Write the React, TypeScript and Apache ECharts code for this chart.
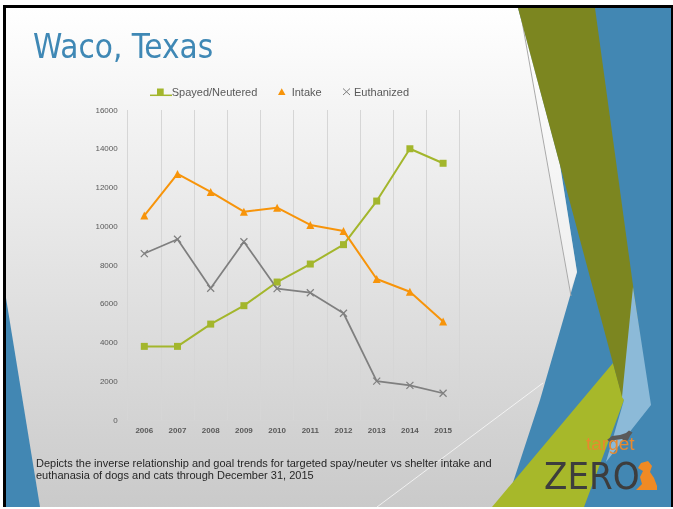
import React, { useEffect, useRef } from "react";
import * as echarts from "echarts";

const years = ["2006", "2007", "2008", "2009", "2010", "2011", "2012", "2013", "2014", "2015"];
const spayed = [3800, 3800, 4950, 5900, 7120, 8050, 9050, 11300, 14000, 13250];
const intake = [10550, 12700, 11770, 10750, 10960, 10070, 9760, 7280, 6620, 5080];
const euthanized = [8590, 9330, 6800, 9200, 6780, 6570, 5510, 2010, 1790, 1380];
const seriesNames = ["Spayed/Neutered", "Intake", "Euthanized"];
const titleText = "Waco, Texas";
const captionLines = [
  "Depicts the inverse relationship and goal trends for targeted spay/neuter vs shelter intake and",
  "euthanasia of dogs and cats through December 31, 2015",
];

const LIME = "#A3B62C";
const ORANGE = "#F7940A";
const GRAY = "#7F7F7F";
const FONT = '"Liberation Sans", Arial, sans-serif';
const NARROW = '"Liberation Sans Narrow", "DejaVu Sans Condensed", "Liberation Sans", sans-serif';

export default function App() {
  const ref = useRef<HTMLDivElement>(null);
  useEffect(() => {
    if (!ref.current) return;
    const chart = echarts.init(ref.current, undefined, { renderer: "svg" });
    const pts = (a: number[][]) => a;
    const graphic: any[] = [
      { type: "rect", z: 0, shape: { x: 3, y: 5, width: 670, height: 502 }, style: { fill: "#000" } },
      {
        type: "rect", z: 0, shape: { x: 6, y: 8, width: 665, height: 499 },
        style: {
          fill: new echarts.graphic.LinearGradient(0, 0, 0, 1, [
            { offset: 0, color: "#ffffff" },
            { offset: 1, color: "#cacaca" },
          ]),
        },
      },
      // left blue triangle
      { type: "polygon", z: 0, shape: { points: pts([[6, 298], [40, 507], [6, 507]]) }, style: { fill: "#4287B3" } },
      // faint diagonal line
      { type: "line", z: 0, shape: { x1: 377, y1: 507, x2: 543, y2: 383 }, style: { stroke: "rgba(255,255,255,0.7)", lineWidth: 1 } },
      // right blue area
      {
        type: "polygon", z: 0,
        shape: { points: pts([[518, 8], [671, 8], [671, 507], [505, 507], [540, 400], [577, 272], [560, 165]]) },
        style: { fill: "#4287B3" },
      },
      // lighter strip
      {
        type: "polygon", z: 0,
        shape: { points: pts([[519, 8], [560, 165], [577, 272], [570, 292]]) },
        style: { fill: "rgba(255,255,255,0.45)" },
      },
      { type: "line", z: 0, shape: { x1: 520, y1: 10, x2: 571, y2: 296 }, style: { stroke: "#a9a9a9", lineWidth: 1 } },
      // lime triangle
      {
        type: "polygon", z: 0,
        shape: { points: pts([[492, 507], [613, 363], [622, 395], [624, 400], [584, 507]]) },
        style: { fill: "#A7B82A" },
      },
      // olive
      {
        type: "polygon", z: 0,
        shape: { points: pts([[518, 8], [595, 8], [648, 395], [622, 397]]) },
        style: { fill: "#7C8620" },
      },
      // light blue
      {
        type: "polygon", z: 0,
        shape: { points: pts([[633, 287], [651, 405], [606, 462], [624, 400], [622, 397]]) },
        style: { fill: "#8CBAD8" },
      },
      // title
      {
        type: "text", z: 5, x: 33, y: 46.5,
        style: { text: titleText, fill: "#3F88B5", font: `33px ${NARROW}`, verticalAlign: "middle", textAlign: "left" },
      },
      // legend
      { type: "line", z: 5, shape: { x1: 150, y1: 95.3, x2: 172, y2: 95.3 }, style: { stroke: LIME, lineWidth: 1.5 } },
      { type: "rect", z: 5, shape: { x: 157, y: 88.5, width: 6.7, height: 6.5 }, style: { fill: LIME } },
      { type: "text", z: 5, x: 171.7, y: 91.6, style: { text: seriesNames[0], fill: "#595959", font: `11px ${FONT}`, verticalAlign: "middle" } },
      { type: "polygon", z: 5, shape: { points: pts([[278, 95], [285.5, 95], [281.7, 88.3]]) }, style: { fill: ORANGE } },
      { type: "text", z: 5, x: 291.7, y: 91.6, style: { text: seriesNames[1], fill: "#595959", font: `11px ${FONT}`, verticalAlign: "middle" } },
      { type: "line", z: 5, shape: { x1: 343, y1: 88.5, x2: 350, y2: 95 }, style: { stroke: GRAY, lineWidth: 1 } },
      { type: "line", z: 5, shape: { x1: 343, y1: 95, x2: 350, y2: 88.5 }, style: { stroke: GRAY, lineWidth: 1 } },
      { type: "text", z: 5, x: 354, y: 91.6, style: { text: seriesNames[2], fill: "#595959", font: `11px ${FONT}`, verticalAlign: "middle" } },
      // caption
      { type: "text", z: 5, x: 36, y: 463, style: { text: captionLines[0], fill: "#262626", font: `11px ${FONT}`, verticalAlign: "middle", lineHeight: 11 } },
      { type: "text", z: 5, x: 36, y: 474.5, style: { text: captionLines[1], fill: "#262626", font: `11px ${FONT}`, verticalAlign: "middle", lineHeight: 11 } },
      // logo
      {
        type: "polygon", z: 5,
        shape: { points: pts([[607, 440], [612, 436], [620, 435], [626, 433], [629, 430.5], [632.5, 432.5], [630, 436], [628, 440], [625, 442], [622, 439], [615, 440], [611, 442.5]]) },
        style: { fill: "#5a5a5a" },
      },
      { type: "text", z: 5, x: 586, y: 443.5, style: { text: "target", fill: "#E8892E", font: `19px ${FONT}`, verticalAlign: "middle", lineHeight: 14 } },
      { type: "text", z: 5, x: 544, y: 476, style: { text: "ZERO", fill: "#3d3d3d", font: `38px ${NARROW}`, verticalAlign: "middle", lineHeight: 28 } },
      {
        type: "polygon", z: 6,
        shape: { points: pts([[641, 463], [648, 461], [652, 466], [650, 472], [654, 478], [657, 486], [657, 490], [636, 490], [642, 484], [640, 477], [643, 471], [638, 468]]) },
        style: { fill: "#F08A24" },
      },
    ];

    chart.setOption({
      animation: false,
      graphic,
      grid: { left: 127.7, right: 213.3, top: 110, bottom: 89, containLabel: false },
      xAxis: {
        type: "category",
        data: years,
        boundaryGap: true,
        axisLine: { lineStyle: { color: "#d4d4d4", width: 1 } },
        axisTick: { show: false },
        splitLine: { show: true, lineStyle: { color: "#d6d6d6", width: 1 } },
        axisLabel: { color: "#595959", fontSize: 8, fontFamily: FONT, fontWeight: "bold", margin: 6 },
      },
      yAxis: {
        type: "value",
        min: 0,
        max: 16000,
        interval: 2000,
        axisLine: { show: false },
        axisTick: { show: false },
        splitLine: { show: false },
        axisLabel: { color: "#595959", fontSize: 8, fontFamily: FONT, margin: 10, formatter: (v: number) => String(v) },
      },
      series: [
        {
          name: seriesNames[0], type: "line", data: spayed, symbol: "rect", symbolSize: 7,
          lineStyle: { color: LIME, width: 2 }, itemStyle: { color: LIME },
        },
        {
          name: seriesNames[1], type: "line", data: intake, symbol: "triangle", symbolSize: 8,
          lineStyle: { color: ORANGE, width: 2 }, itemStyle: { color: ORANGE },
        },
        {
          name: seriesNames[2], type: "line", data: euthanized, symbol: "path://M0,0L10,10M0,10L10,0", symbolSize: 7,
          lineStyle: { color: GRAY, width: 1.75 }, itemStyle: { color: GRAY, borderColor: GRAY, borderWidth: 1.2 },
        },
      ],
    });
    return () => chart.dispose();
  }, []);
  return <div ref={ref} style={{ position: "fixed", left: 0, top: 0, width: 673, height: 509 }} />;
}
